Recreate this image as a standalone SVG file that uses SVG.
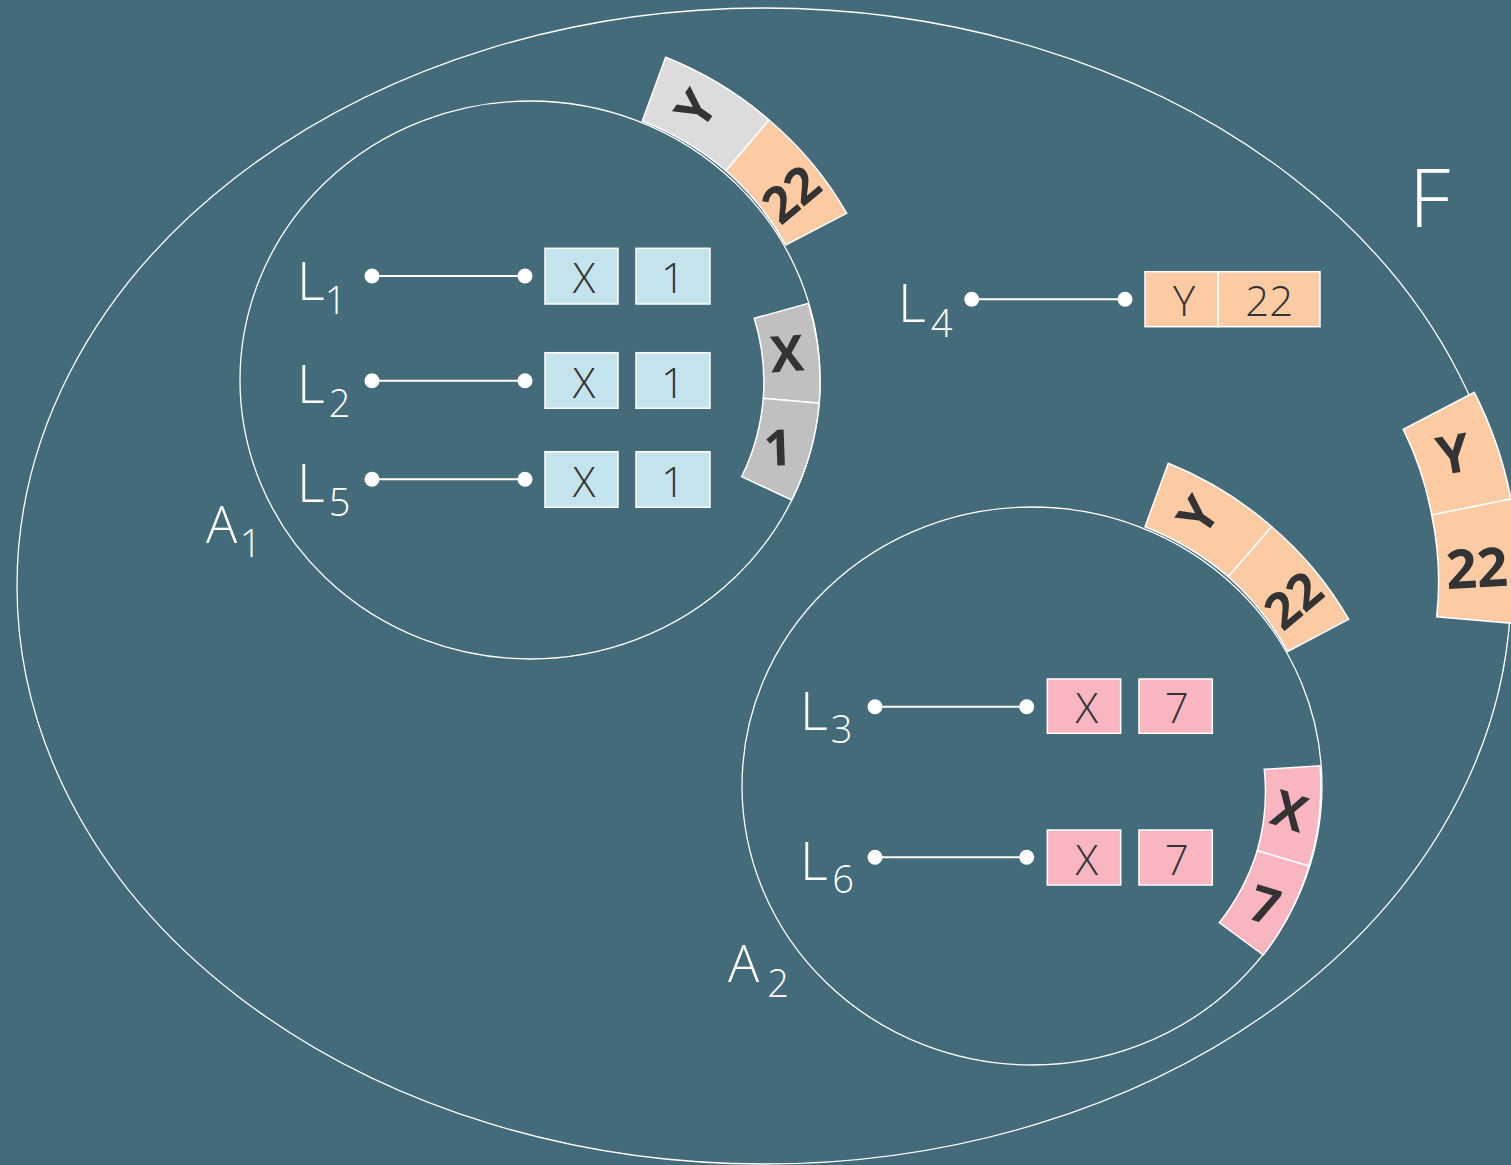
<svg xmlns="http://www.w3.org/2000/svg" width="1511" height="1165" viewBox="0 0 1511 1165">
<style>
.bg{fill:#436B79}
.ring{fill:none;stroke:#ffffff;stroke-width:1.3}
.seg{stroke:#ffffff;stroke-width:1.5}
.grey1{fill:#DCDCDC}
.grey2{fill:#C0C0C0}
.peach{fill:#FCCBA4}
.pink{fill:#F9B5C0}
.blue{fill:#C4E3ED}
.box{stroke:#ffffff;stroke-width:1.5}
.segt{font-family:"Open Sans","Liberation Sans",sans-serif;font-weight:700;font-size:50px;fill:#333333;text-anchor:middle}
.boxt{font-family:"Open Sans","Liberation Sans",sans-serif;font-weight:300;font-size:42px;fill:#333333;text-anchor:middle}
.lbl{font-family:"Open Sans","Liberation Sans",sans-serif;font-weight:300;font-size:54px;fill:#ffffff}
.sub{font-size:38px;text-anchor:middle}
.big{font-family:"Open Sans","Liberation Sans",sans-serif;font-weight:300;font-size:82px;fill:#ffffff}
.wire{stroke:#ffffff;stroke-width:2}
.dot{fill:#ffffff}
</style>
<rect class="bg" x="0" y="0" width="1511" height="1165"/>

<g id="F">
  <ellipse class="ring" cx="764" cy="586" rx="747" ry="578"/>
  <text class="big" x="1409" y="227">F</text>
  <path class="seg peach" d="M1474.3,392.3 A402,402 0 0 1 1511,499 L1431.7,515 A322,322 0 0 0 1403.3,429.3 Z"/>
  <path class="seg peach" d="M1511,499 A402,402 0 0 1 1520,624 L1436.7,616.7 A322,322 0 0 0 1431.7,515 Z"/>
  <text class="segt" style="font-size:53px" transform="translate(1453.3,454) rotate(-10)" y="19">Y</text>
  <text class="segt" style="font-size:54px" transform="translate(1476.8,567.8) rotate(-3)" y="19.5">22</text>
</g>

<g id="A1">
  <ellipse class="ring" cx="530" cy="380" rx="290" ry="279"/>
  <text class="lbl" x="206" y="543.3" style="font-size:52px">A<tspan class="sub" x="250.5" y="556.7">1</tspan></text>
  <path class="seg grey1" d="M665.7,57.3 A361,347 0 0 1 769,120 L726,170.7 A290,279 0 0 0 642.3,121 Z"/>
  <path class="seg peach" d="M769,120 A361,347 0 0 1 846.7,213.3 L785.7,245 A290,279 0 0 0 726,170.7 Z"/>
  <text class="segt" transform="translate(695.5,108.7) rotate(-55)" y="18">Y</text>
  <text class="segt" transform="translate(791,194) rotate(-40)" y="18">22</text>
  <path class="seg grey2" d="M808.3,303.3 A290,279 0 0 1 819.3,403.3 L763.3,398.3 A234,225 0 0 0 754.3,318.3 Z"/>
  <path class="seg grey2" d="M819.3,403.3 A290,279 0 0 1 791.7,500 L741.7,476.7 A234,225 0 0 0 763.3,398.3 Z"/>
  <text class="segt" transform="translate(787,353.3) rotate(-4)" y="18">X</text>
  <text class="segt" transform="translate(778,447.5) rotate(-2)" y="18">1</text>
</g>

<g id="A2">
  <ellipse class="ring" cx="1032" cy="786" rx="290" ry="279"/>
  <text class="lbl" x="728" y="982.3" style="font-size:52px">A<tspan class="sub" x="778" y="996.7">2</tspan></text>
  <path class="seg peach" d="M1168.3,463.3 A361,347 0 0 1 1271.7,526.7 L1228.3,576.7 A290,279 0 0 0 1145,526.7 Z"/>
  <path class="seg peach" d="M1271.7,526.7 A361,347 0 0 1 1348.7,619.3 L1287.7,651.5 A290,279 0 0 0 1228.3,576.7 Z"/>
  <text class="segt" transform="translate(1197.8,515) rotate(-55)" y="18">Y</text>
  <text class="segt" transform="translate(1293.3,600) rotate(-40)" y="18">22</text>
  <path class="seg pink" d="M1320,765.7 A290,279 0 0 1 1309,866 L1257.3,850.7 A234,225 0 0 0 1264.3,769.3 Z"/>
  <path class="seg pink" d="M1309,866 A290,279 0 0 1 1263.3,955 L1219.3,922.7 A234,225 0 0 0 1257.3,850.7 Z"/>
  <text class="segt" transform="translate(1289.7,810.8) rotate(18)" y="18">X</text>
  <text class="segt" transform="translate(1265,905) rotate(17)" y="18">7</text>
</g>

<g id="L1">
  <text class="lbl" x="297" y="300">L<tspan class="sub" x="335.5" y="314">1</tspan></text>
  <rect class="box blue" x="545" y="248.3" width="73" height="55.7"/>
  <rect class="box blue" x="636" y="248.3" width="74" height="55.7"/>
  <text class="boxt" x="584" y="293.3">X</text>
  <text class="boxt" x="673" y="293.3">1</text>
</g>
<g id="L2">
  <text class="lbl" x="297" y="403.3">L<tspan class="sub" x="339.5" y="417.3">2</tspan></text>
  <rect class="box blue" x="545" y="352.7" width="73" height="55.6"/>
  <rect class="box blue" x="636" y="352.7" width="74" height="55.6"/>
  <text class="boxt" x="584" y="398.3">X</text>
  <text class="boxt" x="673" y="398.3">1</text>
</g>
<g id="L5">
  <text class="lbl" x="297" y="501.7">L<tspan class="sub" x="339.7" y="516">5</tspan></text>
  <rect class="box blue" x="545" y="451.7" width="73" height="55.6"/>
  <rect class="box blue" x="636" y="451.7" width="74" height="55.6"/>
  <text class="boxt" x="584" y="496.7">X</text>
  <text class="boxt" x="673" y="496.7">1</text>
</g>
<g id="L4">
  <text class="lbl" x="898" y="321.7">L<tspan class="sub" x="941.7" y="337.3">4</tspan></text>
  <rect class="box peach" x="1145" y="271.7" width="73.3" height="55"/>
  <rect class="box peach" x="1218.3" y="271.7" width="101.7" height="55"/>
  <text class="boxt" x="1184" y="315.7">Y</text>
  <text class="boxt" x="1269.3" y="315.7">22</text>
</g>
<g id="L3">
  <text class="lbl" x="800" y="730">L<tspan class="sub" x="841.7" y="743.3">3</tspan></text>
  <rect class="box pink" x="1047.3" y="679" width="73.4" height="54.3"/>
  <rect class="box pink" x="1139" y="679" width="73.3" height="54.3"/>
  <text class="boxt" x="1086.7" y="723.3">X</text>
  <text class="boxt" x="1176.7" y="723.3">7</text>
</g>
<g id="L6">
  <text class="lbl" x="800" y="880">L<tspan class="sub" x="843" y="893.3">6</tspan></text>
  <rect class="box pink" x="1047.3" y="830" width="73.4" height="55"/>
  <rect class="box pink" x="1139" y="830" width="73.3" height="55"/>
  <text class="boxt" x="1086.7" y="875">X</text>
  <text class="boxt" x="1176.7" y="875">7</text>
</g>

<g id="connectors">
  <line class="wire" x1="372" y1="276" x2="525" y2="276"/>
  <circle class="dot" cx="372" cy="276" r="7.5"/><circle class="dot" cx="525" cy="276" r="7.5"/>
  <line class="wire" x1="372" y1="380.7" x2="525" y2="380.7"/>
  <circle class="dot" cx="372" cy="380.7" r="7.5"/><circle class="dot" cx="525" cy="380.7" r="7.5"/>
  <line class="wire" x1="372" y1="479.3" x2="525" y2="479.3"/>
  <circle class="dot" cx="372" cy="479.3" r="7.5"/><circle class="dot" cx="525" cy="479.3" r="7.5"/>
  <line class="wire" x1="971.7" y1="299.3" x2="1125" y2="299.3"/>
  <circle class="dot" cx="971.7" cy="299.3" r="7.5"/><circle class="dot" cx="1125" cy="299.3" r="7.5"/>
  <line class="wire" x1="875" y1="706.7" x2="1026.7" y2="706.7"/>
  <circle class="dot" cx="875" cy="706.7" r="7.5"/><circle class="dot" cx="1026.7" cy="706.7" r="7.5"/>
  <line class="wire" x1="875" y1="857.3" x2="1026.7" y2="857.3"/>
  <circle class="dot" cx="875" cy="857.3" r="7.5"/><circle class="dot" cx="1026.7" cy="857.3" r="7.5"/>
</g>
</svg>
